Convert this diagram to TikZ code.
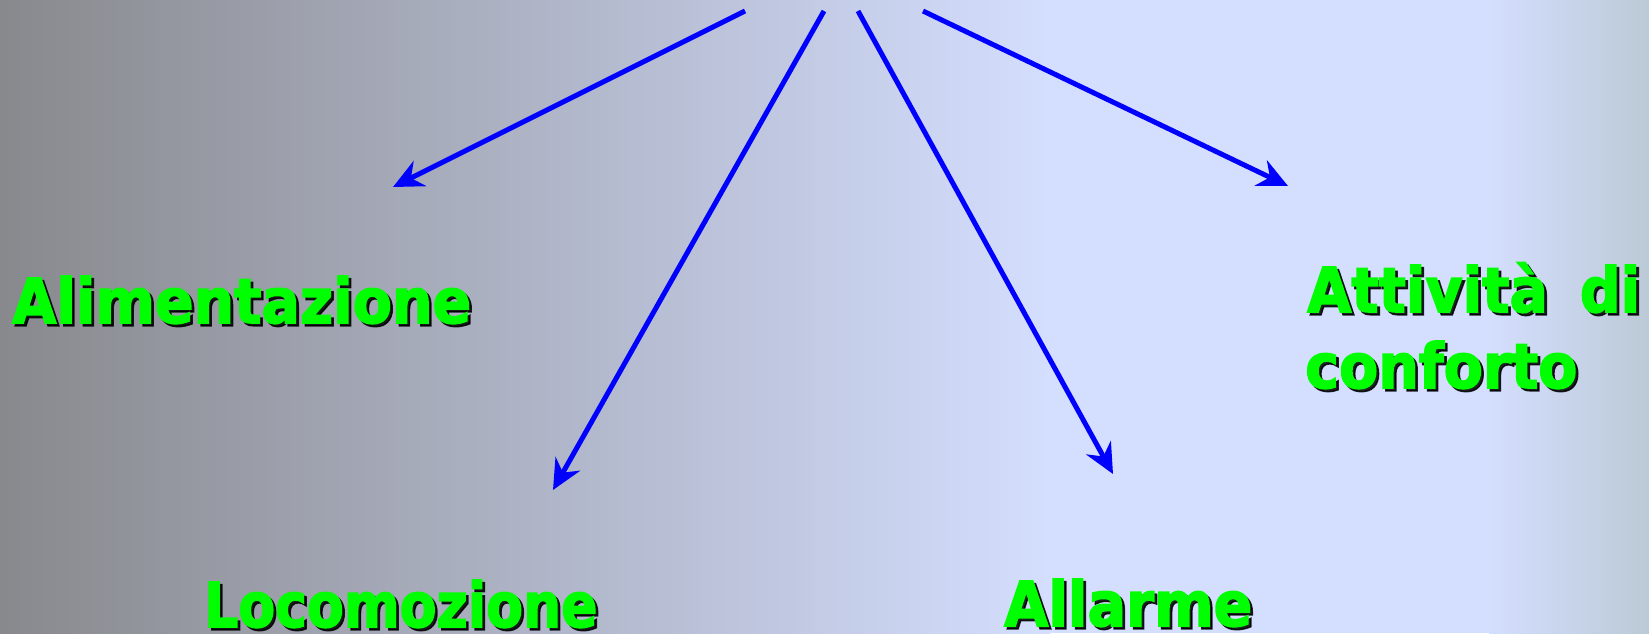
\documentclass[tikz,border=0pt]{standalone}
\usepackage{fontspec}
\usepackage{graphicx}
\usetikzlibrary{arrows.meta,calc}
\newfontfamily\labfont[FakeStretch=0.92,FakeBold=2.4]{DejaVu Sans Bold}
\definecolor{bgA}{RGB}{136,137,141}
\definecolor{bgB}{RGB}{212,222,254}
\definecolor{bgC}{RGB}{188,202,214}
\definecolor{labgreen}{RGB}{0,255,0}
\tikzset{
  lab/.style={inner sep=0pt, anchor=base west, text=labgreen, font=\labfont\fontsize{62}{76}\selectfont},
  labshadow/.style={inner sep=0pt, anchor=base west, text=black, text opacity=0.85, font=\labfont\fontsize{62}{76}\selectfont},
  arr/.style={draw=blue, line width=5pt, -{Stealth[length=30pt, width=28pt, inset=10pt]}}
}
\newcommand{\shadowlabel}[3]{%
  \node[labshadow] (#1-s) at ($(#2)+(2.8,2.8)$) {#3};
  \node[lab] (#1) at (#2) {#3};
}
\begin{document}
\begin{tikzpicture}[x=1pt,y=-1pt]
\useasboundingbox (0,0) rectangle (1649,633);
\shade[left color=bgA, right color=bgB] (0,0) rectangle (1050,633);
\fill[bgB] (1049,0) rectangle (1490,633);
\shade[left color=bgB, right color=bgC] (1489,0) rectangle (1649,633);

\coordinate (s1) at (745,11);
\coordinate (s2) at (824,11);
\coordinate (s3) at (858,11);
\coordinate (s4) at (923,11);
\coordinate (t1) at (393,187);
\coordinate (t2) at (553,490);
\coordinate (t3) at (1113,474);
\coordinate (t4) at (1288,186);
\draw[arr] (s1) -- (t1);
\draw[arr] (s2) -- (t2);
\draw[arr] (s3) -- (t3);
\draw[arr] (s4) -- (t4);

\coordinate (pali) at (12,323);
\coordinate (ploc) at (204,627);
\coordinate (pall) at (1004,626);
\coordinate (patt) at (1307,312);
\coordinate (pcon) at (1305,388);
\shadowlabel{ali}{pali}{Alimentazione}
\shadowlabel{loc}{ploc}{\scalebox{0.94}[1]{Locomozione}}
\shadowlabel{all}{pall}{Allarme}
\shadowlabel{att}{patt}{\makebox[333pt][s]{Attività di}}
\shadowlabel{con}{pcon}{conforto}
\end{tikzpicture}
\end{document}
